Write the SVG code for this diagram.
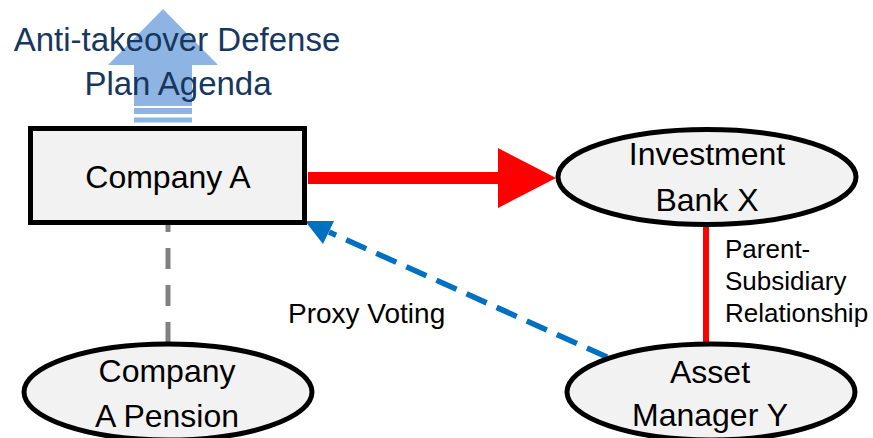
<svg xmlns="http://www.w3.org/2000/svg" width="873" height="438" viewBox="0 0 873 438">
<style>
.node{fill:#f2f2f2;stroke:#000;stroke-width:5}
.t{font-family:"Liberation Sans",Arial,sans-serif;font-size:32px;fill:#000;text-anchor:middle}
.lbl{font-family:"Liberation Sans",Arial,sans-serif;fill:#000}
.title{font-family:"Liberation Sans",Arial,sans-serif;font-size:33px;fill:#17375e;text-anchor:middle}
</style>
<rect width="873" height="438" fill="#fff"/>
<g id="agenda">
<polygon points="163,9 218,65 192,65 192,106 134,106 134,65 108,65" fill="#8db4e2"/>
<rect x="134" y="108" width="58" height="6" fill="#8db4e2"/>
<rect x="134" y="117.5" width="58" height="5" fill="#8db4e2"/>
<text class="title" x="177" y="51">Anti-takeover Defense</text>
<text class="title" x="178" y="95">Plan Agenda</text>
</g>
<g id="connectors">
<line x1="168" y1="225" x2="168" y2="343" stroke="#808080" stroke-width="5" stroke-dasharray="21 16" stroke-dashoffset="14"/>
<line x1="308" y1="178" x2="500" y2="178" stroke="#ff0000" stroke-width="12"/>
<polygon points="498,148 556,178 498,208" fill="#ff0000"/>
<line x1="706" y1="225" x2="706" y2="344" stroke="#ff0000" stroke-width="6"/>
<line x1="607" y1="357" x2="329" y2="232" stroke="#0070c0" stroke-width="5.5" stroke-dasharray="22 11"/>
<polygon points="305,221 334,221 323,244" fill="#0070c0"/>
<text class="lbl" x="288" y="323" font-size="28">Proxy Voting</text>
<text class="lbl" font-size="26"><tspan x="725" y="258">Parent-</tspan><tspan x="725" y="290">Subsidiary</tspan><tspan x="725" y="322">Relationship</tspan></text>
</g>
<g id="companyA">
<rect class="node" x="30.5" y="128.5" width="274" height="94"/>
<text class="t" x="168" y="188">Company A</text>
</g>
<g id="investmentBankX">
<ellipse class="node" cx="707" cy="177" rx="149" ry="47.5"/>
<text class="t" x="707" y="165">Investment</text>
<text class="t" x="707" y="211">Bank X</text>
</g>
<g id="pension">
<ellipse class="node" cx="168" cy="392" rx="144" ry="48"/>
<text class="t" x="167" y="382">Company</text>
<text class="t" x="167" y="427">A Pension</text>
</g>
<g id="assetManagerY">
<ellipse class="node" cx="711" cy="392" rx="144" ry="48"/>
<text class="t" x="710" y="383">Asset</text>
<text class="t" x="710" y="426">Manager Y</text>
</g>
</svg>
